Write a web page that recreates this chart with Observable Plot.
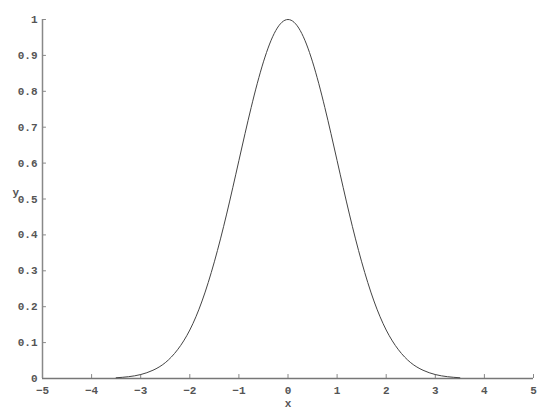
<!DOCTYPE html>
<html><head><meta charset="utf-8">
<script src="https://cdn.jsdelivr.net/npm/d3@7"></script>
<script src="https://cdn.jsdelivr.net/npm/@observablehq/plot@0.6"></script>
<style>
body{margin:0;background:#fff;}
svg{font-family:"Liberation Mono",monospace;}
</style></head><body>
<div id="chart"></div>
<script>
const xs = [-3.5,-3.25,-3,-2.75,-2.5,-2.25,-2,-1.75,-1.5,-1.25,-1,-0.75,-0.5,-0.25,0,0.25,0.5,0.75,1,1.25,1.5,1.75,2,2.25,2.5,2.75,3,3.25,3.5];
const ys = [0.002,0.005,0.011,0.023,0.044,0.080,0.135,0.216,0.325,0.458,0.607,0.755,0.882,0.969,1,0.969,0.882,0.755,0.607,0.458,0.325,0.216,0.135,0.080,0.044,0.023,0.011,0.005,0.002];
const xTicks = [-5,-4,-3,-2,-1,0,1,2,3,4,5];
const yTicks = [0,0.1,0.2,0.3,0.4,0.5,0.6,0.7,0.8,0.9,1];
const data = xs.map((x,i)=>({x, y: ys[i]}));
const axisColor = "#888";
const textColor = "#555";
const chart = Plot.plot({
  width: 550, height: 415,
  marginLeft: 42, marginRight: 17, marginTop: 19, marginBottom: 37,
  style: {fontFamily: "Liberation Mono, monospace", fontSize: "11px", fontWeight: "bold", color: textColor},
  x: {type: "linear", domain: [-5, 5]},
  y: {type: "linear", domain: [0, 1]},
  marks: [
    Plot.axisX({ticks: xTicks, tickSize: 0, tickPadding: 8, label: null, fill: textColor}),
    Plot.axisY({ticks: yTicks, tickSize: 0, tickPadding: 5, label: null, fill: textColor, tickFormat: d => String(+d.toFixed(1))}),
    Plot.ruleX(xTicks, {x: d => d, y1: 0, y2: 0.011, stroke: axisColor, strokeWidth: 1}),
    Plot.ruleY(yTicks, {y: d => d, x1: -5, x2: -4.92, stroke: axisColor, strokeWidth: 1}),
    Plot.ruleY([0], {stroke: "#777", strokeWidth: 1.5}),
    Plot.ruleX([-5], {stroke: axisColor, strokeWidth: 1.5}),
    Plot.line(data, {x: "x", y: "y", curve: "natural", stroke: "#444", strokeWidth: 1}),
    Plot.text(["x"], {frameAnchor: "bottom", dy: 28, text: d => d, fill: textColor, fontSize: 11}),
    Plot.text(["y"], {frameAnchor: "left", dx: -30, dy: -7, text: d => d, fill: textColor, fontSize: 11})
  ]
});
document.getElementById("chart").appendChild(chart);
</script>
</body></html>
